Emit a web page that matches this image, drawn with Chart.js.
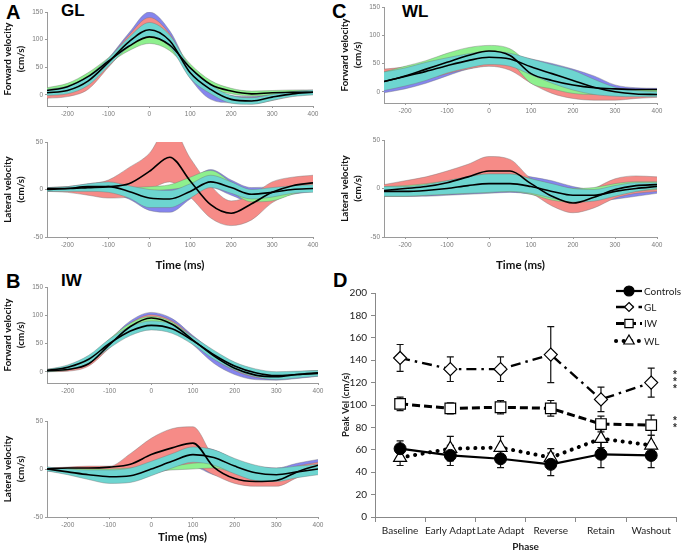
<!DOCTYPE html>
<html>
<head>
<meta charset="utf-8">
<script src="https://cdn.jsdelivr.net/npm/chart.js@4.4.1/dist/chart.umd.min.js"></script>
<style>
  body { margin: 0; background: #fff; }
  #fig { position: relative; width: 685px; height: 553px; overflow: hidden; background: #fff; }
  .cv { position: absolute; }
  .tag { position: absolute; font-family: "Liberation Sans", Arial, sans-serif; font-weight: bold; color: #000; line-height: 1; }
</style>
</head>
<body>
<div id="fig">
  <div class="tag" style="left:6px;top:2px;font-size:20px">A</div>
  <div class="tag" style="left:61px;top:2px;font-size:17px">GL</div>
  <div class="tag" style="left:332px;top:1px;font-size:20px">C</div>
  <div class="tag" style="left:402px;top:3px;font-size:17px">WL</div>
  <div class="tag" style="left:6px;top:271px;font-size:20px">B</div>
  <div class="tag" style="left:61px;top:272px;font-size:17px">IW</div>
  <div class="tag" style="left:333px;top:270px;font-size:20px">D</div>
</div>
<script>
/* Velocity profiles (A–C) and peak velocity by phase (D) */

// ── Shared axes ─────────────────────────────────────────────
const TIME = [-250, -200, -150, -100, -50, 0, 50, 100, 150, 200, 250, 300, 350, 400];
const TIME_TICKS = [-200, -100, 0, 100, 200, 300, 400];
const FWD_TICKS = [0, 50, 100, 150];
const LAT_TICKS = [-50, 0, 50];

// ── A · GL forward ──────────────────────────────────────────
const glFwdBlueLo  = [-3, 0, 14, 52, 92, 122, 95, 30, -8, -14, -12, -6, 0, 3];
const glFwdBlueHi  = [8, 14, 30, 66, 112, 150, 116, 46, 10, -1, -3, 3, 8, 9];
const glFwdRedLo   = [-6, -3, 10, 50, 90, 118, 92, 33, 3, -10, -16, -10, -2, 2];
const glFwdRedHi   = [4, 8, 24, 64, 108, 140, 110, 44, 12, -2, -5, 1, 6, 8];
const glFwdGreenLo = [3, 9, 27, 56, 80, 93, 80, 42, 12, 2, -2, 0, 2, 1];
const glFwdGreenHi = [13, 21, 40, 67, 96, 116, 100, 56, 26, 12, 7, 8, 9, 8];
const glFwdCyanLo  = [-1, 2, 17, 52, 87, 106, 87, 30, 2, -15, -17, -10, -3, 0];
const glFwdCyanHi  = [10, 16, 34, 66, 104, 131, 108, 50, 18, -1, -5, 1, 6, 9];
const glFwdMeanA   = [4, 8, 25, 59, 96, 118, 98, 40, 10, -8, -11, -4, 2, 5];
const glFwdMeanB   = [8, 15, 33, 61, 88, 105, 90, 49, 19, 7, 2, 4, 5, 5];

// ── A · GL lateral ──────────────────────────────────────────
const glLatBlueLo  = [-2, -2, -3, -4, -10, -22, -24, -10, 2, -6, -13, -10, -5, -2];
const glLatBlueHi  = [2, 3, 6, 8, 6, 2, 3, 10, 21, 10, 2, 3, 5, 5];
const glLatRedLo   = [-2, -3, -6, -9, -8, 0, 8, -8, -30, -38, -32, -14, -4, 1];
const glLatRedHi   = [2, 3, 5, 10, 23, 38, 68, 33, 4, -12, -6, 8, 13, 15];
const glLatGreenLo = [-1, -1, -1, -1, -1, -1, 0, 3, 6, -3, -13, -12, -5, 0];
const glLatGreenHi = [1, 1, 1, 1, 2, 3, 5, 13, 20, 8, -2, 0, 3, 5];
const glLatCyanLo  = [-2, -2, -2, -3, -9, -19, -19, -9, 2, -4, -10, -8, -4, -3];
const glLatCyanHi  = [2, 3, 6, 8, 4, 0, -1, 6, 15, 8, 0, 2, 4, 5];
const glLatMeanA   = [1, 1, 2, 3, 6, 19, 34, 9, -16, -25, -15, -3, 4, 7];
const glLatMeanB   = [0, 1, 3, 3, -2, -9, -10, -2, 8, 2, -5, -3, 0, 1];

// ── C · WL forward ──────────────────────────────────────────
const wlFwdBlueLo  = [-2, 5, 15, 28, 40, 46, 44, 32, 20, 8, 0, -3, -4, -3];
const wlFwdBlueHi  = [25, 35, 45, 55, 63, 68, 66, 58, 50, 40, 28, 12, 7, 6];
const wlFwdRedLo   = [5, 12, 22, 32, 40, 45, 38, 15, -3, -12, -15, -15, -12, -10];
const wlFwdRedHi   = [40, 44, 52, 58, 62, 65, 58, 45, 30, 18, 5, -2, -3, -2];
const wlFwdGreenLo = [15, 25, 37, 50, 58, 60, 52, 15, 5, -3, -5, -3, -1, -1];
const wlFwdGreenHi = [35, 45, 55, 68, 78, 82, 76, 48, 35, 22, 8, 5, 4, 4];
const wlFwdCyanLo  = [2, 10, 20, 33, 42, 48, 45, 30, 15, 3, -5, -8, -9, -9];
const wlFwdCyanHi  = [35, 42, 52, 60, 67, 72, 68, 58, 48, 38, 22, 8, 2, 0];
const wlFwdMeanA   = [18, 28, 40, 52, 64, 72, 64, 32, 20, 12, 7, 5, 4, 4];
const wlFwdMeanB   = [18, 27, 36, 46, 55, 61, 58, 44, 32, 20, 8, 0, -4, -5];

// ── C · WL lateral ──────────────────────────────────────────
const wlLatBlueLo  = [-8, -8, -8, -7, -6, -5, -4, -6, -11, -14, -13, -11, -8, -5];
const wlLatBlueHi  = [2, 3, 5, 9, 13, 16, 16, 12, 8, 2, -1, 3, 6, 6];
const wlLatRedLo   = [-8, -8, -7, -6, -4, 0, 0, -5, -18, -25, -20, -10, -5, -3];
const wlLatRedHi   = [4, 8, 12, 18, 25, 33, 30, 10, 0, -8, 0, 10, 13, 12];
const wlLatGreenLo = [-8, -8, -7, -6, -5, -4, -3, -6, -12, -14, -12, -7, -3, -1];
const wlLatGreenHi = [2, 3, 5, 8, 12, 15, 15, 10, 4, 0, 1, 5, 7, 7];
const wlLatCyanLo  = [-8, -8, -7, -6, -5, -4, -3, -5, -10, -14, -13, -8, -3, 0];
const wlLatCyanHi  = [2, 2, 4, 8, 12, 15, 15, 10, 5, 0, -1, 3, 6, 6];
const wlLatMeanA   = [-2, 0, 2, 6, 12, 18, 18, 5, -8, -15, -9, -1, 3, 4];
const wlLatMeanB   = [-3, -3, -2, 0, 3, 5, 5, 2, -3, -7, -7, -3, 0, 2];

// ── B · IW forward ──────────────────────────────────────────
const iwFwdBlueLo  = [0, 2, 12, 44, 78, 92, 80, 48, 15, -5, -14, -15, -12, -8];
const iwFwdBlueHi  = [4, 8, 20, 56, 90, 105, 94, 64, 36, 14, 2, -3, 0, 2];
const iwFwdRedLo   = [0, 1, 10, 42, 75, 89, 78, 51, 23, 2, -10, -13, -9, -5];
const iwFwdRedHi   = [4, 8, 19, 55, 86, 101, 90, 62, 33, 11, -2, -5, -1, 1];
const iwFwdGreenLo = [0, 3, 16, 48, 76, 88, 78, 52, 26, 6, -6, -10, -7, -4];
const iwFwdGreenHi = [4, 10, 26, 58, 86, 98, 88, 60, 34, 14, 2, -3, 0, 2];
const iwFwdCyanLo  = [0, 4, 15, 42, 64, 74, 68, 48, 22, 3, -9, -14, -11, -8];
const iwFwdCyanHi  = [4, 12, 29, 58, 80, 90, 84, 62, 38, 17, 5, 0, 1, 2];
const iwFwdMeanA   = [2, 4, 14, 48, 80, 95, 84, 56, 28, 6, -6, -9, -5, -2];
const iwFwdMeanB   = [2, 8, 22, 50, 72, 82, 76, 55, 30, 10, -2, -7, -5, -3];

// ── B · IW lateral ──────────────────────────────────────────
const iwLatBlueLo  = [-2, -5, -10, -14, -13, -6, 0, 2, -6, -10, -13, -14, -8, -3];
const iwLatBlueHi  = [2, 0, -1, -1, 2, 9, 17, 24, 20, 10, 3, 1, 6, 10];
const iwLatRedLo   = [-1, -1, -2, -4, -2, 2, 3, 4, -6, -15, -18, -18, -9, 0];
const iwLatRedHi   = [1, 2, 3, 3, 16, 32, 42, 44, 12, -2, -6, -4, 3, 7];
const iwLatGreenLo = [-1, -2, -3, -5, -4, -2, -1, 0, 1, -4, -10, -11, -7, -3];
const iwLatGreenHi = [1, 1, 0, 0, 1, 2, 3, 6, 7, 5, 2, 0, 2, 4];
const iwLatCyanLo  = [-2, -6, -11, -15, -14, -7, 1, 7, 4, -5, -12, -13, -9, -6];
const iwLatCyanHi  = [2, 0, -1, -1, 1, 8, 16, 23, 20, 11, 4, 1, 3, 5];
const iwLatMeanA   = [0, 1, 1, 2, 5, 15, 22, 27, 2, -10, -13, -12, -3, 4];
const iwLatMeanB   = [0, -3, -6, -8, -7, 0, 8, 15, 12, 3, -4, -6, -3, 0];

// ── D · Peak velocity by phase ──────────────────────────────
const PHASES = ["Baseline", "Early Adapt", "Late Adapt", "Reverse", "Retain", "Washout"];
const PEAK_TICKS = [0, 20, 40, 60, 80, 100, 120, 140, 160, 180, 200];
const controlsPeak = [61, 55, 52, 47, 56, 55];
const controlsErr  = [7, 9, 8, 10, 12, 11];
const glPeak = [142, 132, 132, 145, 105, 120];
const glErr  = [12, 11, 11, 25, 11, 13];
const iwPeak = [101, 97, 98, 97, 83, 82];
const iwErr  = [6, 5, 6, 7, 7, 9];
const wlPeak = [53, 61, 62, 53, 70, 64];
const wlErr  = [7, 11, 10, 8, 8, 9];
const SIG_MARKS = [{ text: "***", value: 123 }, { text: "**", value: 85 }];

// ── Styling ─────────────────────────────────────────────────
const BAND_COLORS = { blue: "#8585ee", red: "#f68b87", green: "#8ef08e", cyan: "#6dd5d0" };
const EDGE = "rgba(115,115,115,0.8)";
const AXIS = "#9a9a9a";
const TITLE_FONT = "Lato, 'Open Sans', sans-serif";

const fig = document.getElementById("fig");
const pts = (vals) => vals.map((v, i) => ({ x: TIME[i], y: v }));
const fixTicks = (list) => (scale) => { scale.ticks = list.map((v) => ({ value: v })); };

function makeCanvas(left, top, w, h) {
  const c = document.createElement("canvas");
  c.width = w;
  c.height = h;
  c.className = "cv";
  c.style.left = left + "px";
  c.style.top = top + "px";
  c.style.width = w + "px";
  c.style.height = h + "px";
  fig.appendChild(c);
  return c;
}

function bandChart(cfg) {
  const canvas = makeCanvas(cfg.left, cfg.top, cfg.w, cfg.h);
  const datasets = [];
  cfg.bands.forEach(([name, lo, hi], i) => {
    const order = 10 - i; // later bands sit on top
    const line = { borderColor: EDGE, borderWidth: 0.5, pointRadius: 0, order, cubicInterpolationMode: "monotone" };
    datasets.push({ ...line, data: pts(lo), fill: false });
    datasets.push({ ...line, data: pts(hi), fill: "-1", backgroundColor: BAND_COLORS[name] });
  });
  cfg.means.forEach((m) => {
    datasets.push({ data: pts(m), borderColor: "#000", borderWidth: 1.6, pointRadius: 0, fill: false, order: 0, cubicInterpolationMode: "monotone" });
  });

  const lateral = cfg.kind === "lat";
  const tickFont = { family: "'Liberation Sans', Arial, sans-serif", size: 6.5 };

  return new Chart(canvas, {
    type: "line",
    data: { datasets },
    options: {
      responsive: false,
      animation: false,
      devicePixelRatio: 1,
      layout: { padding: { top: 6, right: 8, left: 0, bottom: 0 } },
      plugins: { legend: { display: false }, tooltip: { enabled: false } },
      scales: {
        x: {
          type: "linear",
          min: -250,
          max: 400,
          afterBuildTicks: fixTicks(TIME_TICKS),
          afterFit: (s) => { s.height = cfg.xH; },
          grid: { drawOnChartArea: false, tickLength: 2, color: AXIS },
          border: { color: AXIS },
          ticks: { font: tickFont, color: "#7a7a7a", padding: 2, maxRotation: 0 },
          title: {
            display: lateral,
            text: "Time (ms)",
            color: "#111",
            font: { family: TITLE_FONT, weight: "bold", size: 11.5, lineHeight: 1.2 },
            padding: 0,
          },
        },
        y: {
          min: lateral ? -50 : -20,
          max: lateral ? 50 : 150,
          afterBuildTicks: fixTicks(lateral ? LAT_TICKS : FWD_TICKS),
          afterFit: (s) => { s.width = 47; },
          grid: { drawOnChartArea: false, tickLength: 2, color: AXIS },
          border: { color: AXIS },
          ticks: { font: tickFont, color: "#7a7a7a", padding: 2 },
          title: {
            display: true,
            text: [lateral ? "Lateral velocity" : "Forward velocity", "(cm/s)"],
            color: "#111",
            font: { family: TITLE_FONT, weight: "bold", size: 9.8, lineHeight: 1.25 },
            padding: { top: 2, bottom: 0 },
          },
        },
      },
    },
  });
}

// ── Panels A, C, B ──────────────────────────────────────────
bandChart({
  left: 0, top: 6, w: 321, h: 114, xH: 14, kind: "fwd",
  bands: [["blue", glFwdBlueLo, glFwdBlueHi], ["red", glFwdRedLo, glFwdRedHi], ["green", glFwdGreenLo, glFwdGreenHi], ["cyan", glFwdCyanLo, glFwdCyanHi]],
  means: [glFwdMeanA, glFwdMeanB],
});
bandChart({
  left: 0, top: 136, w: 321, h: 136, xH: 35, kind: "lat",
  bands: [["blue", glLatBlueLo, glLatBlueHi], ["red", glLatRedLo, glLatRedHi], ["green", glLatGreenLo, glLatGreenHi], ["cyan", glLatCyanLo, glLatCyanHi]],
  means: [glLatMeanA, glLatMeanB],
});
bandChart({
  left: 337, top: 1, w: 328, h: 116, xH: 14, kind: "fwd",
  bands: [["blue", wlFwdBlueLo, wlFwdBlueHi], ["red", wlFwdRedLo, wlFwdRedHi], ["green", wlFwdGreenLo, wlFwdGreenHi], ["cyan", wlFwdCyanLo, wlFwdCyanHi]],
  means: [wlFwdMeanA, wlFwdMeanB],
});
bandChart({
  left: 337, top: 134, w: 328, h: 138, xH: 35, kind: "lat",
  bands: [["blue", wlLatBlueLo, wlLatBlueHi], ["red", wlLatRedLo, wlLatRedHi], ["green", wlLatGreenLo, wlLatGreenHi], ["cyan", wlLatCyanLo, wlLatCyanHi]],
  means: [wlLatMeanA, wlLatMeanB],
});
bandChart({
  left: 0, top: 281, w: 326, h: 116, xH: 14, kind: "fwd",
  bands: [["blue", iwFwdBlueLo, iwFwdBlueHi], ["red", iwFwdRedLo, iwFwdRedHi], ["green", iwFwdGreenLo, iwFwdGreenHi], ["cyan", iwFwdCyanLo, iwFwdCyanHi]],
  means: [iwFwdMeanA, iwFwdMeanB],
});
bandChart({
  left: 0, top: 415, w: 326, h: 129, xH: 27, kind: "lat",
  bands: [["blue", iwLatBlueLo, iwLatBlueHi], ["red", iwLatRedLo, iwLatRedHi], ["green", iwLatGreenLo, iwLatGreenHi], ["cyan", iwLatCyanLo, iwLatCyanHi]],
  means: [iwLatMeanA, iwLatMeanB],
});

// ── Panel D ─────────────────────────────────────────────────
function drawMarker(ctx, style, x, y, r, fill) {
  ctx.beginPath();
  if (style === "circle") {
    ctx.arc(x, y, r, 0, Math.PI * 2);
  } else if (style === "rectRot") {
    ctx.moveTo(x, y - r); ctx.lineTo(x + r, y); ctx.lineTo(x, y + r); ctx.lineTo(x - r, y);
    ctx.closePath();
  } else if (style === "rect") {
    ctx.rect(x - r * 0.75, y - r * 0.75, r * 1.5, r * 1.5);
  } else {
    ctx.moveTo(x, y - r); ctx.lineTo(x + r * 0.87, y + r * 0.5); ctx.lineTo(x - r * 0.87, y + r * 0.5);
    ctx.closePath();
  }
  ctx.fillStyle = fill;
  ctx.fill();
  ctx.setLineDash([]);
  ctx.lineWidth = 1.2;
  ctx.strokeStyle = "#000";
  ctx.stroke();
}

const errorBars = {
  id: "errorBars",
  beforeDatasetsDraw(chart) {
    const { ctx, scales: { x, y } } = chart;
    ctx.save();
    ctx.strokeStyle = "#111";
    ctx.lineWidth = 1.2;
    chart.data.datasets.forEach((ds) => {
      ds.errors.forEach((e, i) => {
        const px = x.getPixelForValue(i);
        const top = y.getPixelForValue(ds.data[i] + e);
        const bot = y.getPixelForValue(ds.data[i] - e);
        ctx.beginPath();
        ctx.moveTo(px, top); ctx.lineTo(px, bot);
        ctx.moveTo(px - 3.5, top); ctx.lineTo(px + 3.5, top);
        ctx.moveTo(px - 3.5, bot); ctx.lineTo(px + 3.5, bot);
        ctx.stroke();
      });
    });
    ctx.restore();
  },
};

const phaseLegend = {
  id: "phaseLegend",
  afterDraw(chart) {
    const { ctx, scales: { y } } = chart;
    const rows = [8, 24, 40.5, 58];
    const sizes = [5, 4.5, 5.5, 6];
    ctx.save();
    chart.data.datasets.forEach((ds, i) => {
      const ry = rows[i];
      ctx.beginPath();
      ctx.setLineDash(ds.borderDash || []);
      ctx.lineCap = ds.borderCapStyle || "butt";
      ctx.lineWidth = ds.borderWidth;
      ctx.strokeStyle = "#000";
      ctx.moveTo(280, ry); ctx.lineTo(306, ry);
      ctx.stroke();
      drawMarker(ctx, ds.pointStyle, 293, ry, sizes[i], ds.pointBackgroundColor);
      ctx.fillStyle = "#222";
      ctx.font = "10px Lato, 'Open Sans', sans-serif";
      ctx.textBaseline = "middle";
      ctx.textAlign = "left";
      ctx.fillText(ds.label, 308, ry + 0.5);
    });

    // significance asterisks, stacked vertically beside the last phase
    ctx.fillStyle = "#333";
    ctx.font = "bold 10px 'Liberation Sans', Arial, sans-serif";
    ctx.textAlign = "center";
    ctx.textBaseline = "alphabetic";
    SIG_MARKS.forEach((m) => {
      const n = m.text.length;
      const cy = y.getPixelForValue(m.value);
      [...m.text].forEach((ch, k) => {
        ctx.fillText(ch, 339, cy + (k - (n - 1) / 2) * 7 + 6);
      });
    });
    ctx.restore();
  },
};

const dCanvas = makeCanvas(336, 283, 349, 270);
new Chart(dCanvas, {
  type: "line",
  data: {
    labels: PHASES,
    datasets: [
      { label: "Controls", data: controlsPeak, errors: controlsErr, borderColor: "#000", borderWidth: 2.2,
        pointStyle: "circle", pointRadius: 6, pointBackgroundColor: "#000", pointBorderColor: "#000", pointBorderWidth: 1 },
      { label: "GL", data: glPeak, errors: glErr, borderColor: "#000", borderWidth: 2.4, borderDash: [10, 5, 2.5, 5],
        pointStyle: "rectRot", pointRadius: 6.5, pointBackgroundColor: "#fff", pointBorderColor: "#000", pointBorderWidth: 1.2 },
      { label: "IW", data: iwPeak, errors: iwErr, borderColor: "#000", borderWidth: 3, borderDash: [8, 4],
        pointStyle: "rect", pointRadius: 7.5, pointBackgroundColor: "#fff", pointBorderColor: "#000", pointBorderWidth: 1.2 },
      { label: "WL", data: wlPeak, errors: wlErr, borderColor: "#000", borderWidth: 4, borderDash: [0.1, 7.5], borderCapStyle: "round",
        pointStyle: "triangle", pointRadius: 7.5, pointBackgroundColor: "#fff", pointBorderColor: "#000", pointBorderWidth: 1.2 },
    ],
  },
  options: {
    responsive: false,
    animation: false,
    devicePixelRatio: 1,
    layout: { padding: { top: 8, right: 3, left: 0, bottom: 0 } },
    plugins: { legend: { display: false }, tooltip: { enabled: false } },
    scales: {
      x: {
        offset: true,
        afterFit: (s) => { s.height = 36; },
        grid: { offset: true, drawOnChartArea: false, tickLength: 5, color: "#888" },
        border: { color: "#888" },
        ticks: { font: { family: "Lato, sans-serif", size: 10 }, color: "#222", padding: 3, maxRotation: 0, autoSkip: false },
        title: { display: true, text: "Phase", color: "#222", font: { family: TITLE_FONT, weight: "bold", size: 10 }, padding: 0 },
      },
      y: {
        min: 0,
        max: 200,
        afterBuildTicks: fixTicks(PEAK_TICKS),
        afterFit: (s) => { s.width = 39; },
        grid: { drawOnChartArea: false, tickLength: 4, color: "#888" },
        border: { color: "#888" },
        ticks: { font: { family: "Lato, sans-serif", size: 10 }, color: "#222", padding: 4 },
        title: { display: true, text: "Peak Vel (cm/s)", color: "#222", font: { family: TITLE_FONT, weight: "bold", size: 9.5 }, padding: { top: 4, bottom: 0 } },
      },
    },
  },
  plugins: [errorBars, phaseLegend],
});
</script>
</body>
</html>
